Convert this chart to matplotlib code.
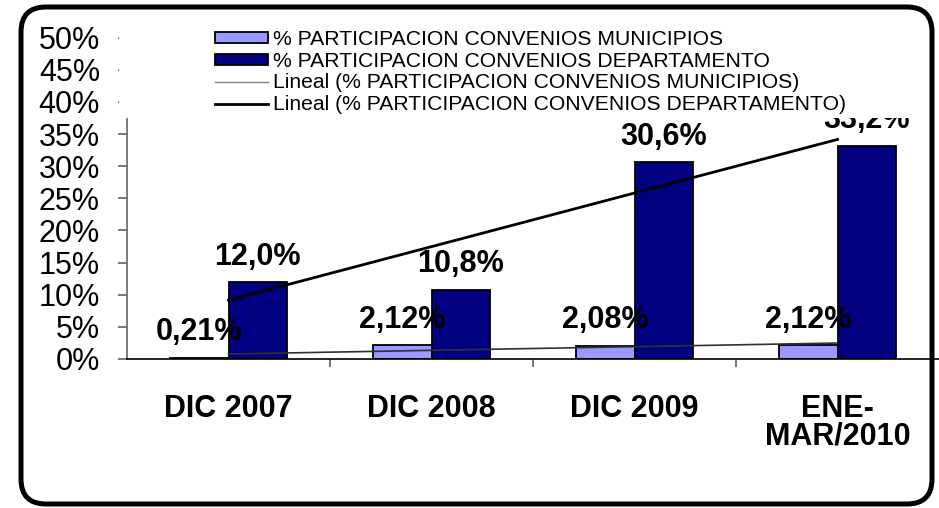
import numpy as np
import matplotlib
matplotlib.use("Agg")
import matplotlib.pyplot as plt
from matplotlib.patches import Rectangle, FancyBboxPatch, Patch
from matplotlib.lines import Line2D
from matplotlib.transforms import IdentityTransform
from matplotlib.ticker import FixedLocator

plt.rcParams['font.family'] = ['Liberation Sans', 'DejaVu Sans']

categories = ["DIC 2007", "DIC 2008", "DIC 2009", "ENE-\nMAR/2010"]
municipios = [0.21, 2.12, 2.08, 2.12]
departamento = [12.0, 10.8, 30.6, 33.2]
labels_mun = ["0,21%", "2,12%", "2,08%", "2,12%"]
labels_dep = ["12,0%", "10,8%", "30,6%", "33,2%"]
yticks = [0, 5, 10, 15, 20, 25, 30, 35, 40, 45, 50]
ytick_labels = ["0%", "5%", "10%", "15%", "20%", "25%", "30%", "35%", "40%", "45%", "50%"]
legend_labels = ["% PARTICIPACION CONVENIOS MUNICIPIOS",
                 "% PARTICIPACION CONVENIOS DEPARTAMENTO",
                 "Lineal (% PARTICIPACION CONVENIOS MUNICIPIOS)",
                 "Lineal (% PARTICIPACION CONVENIOS DEPARTAMENTO)"]

W, H = 939, 508
fig = plt.figure(figsize=(W / 100, H / 100), dpi=100)
ax = fig.add_axes([127 / W, (H - 359) / H, 1 - 127 / W, (359 - 37.6) / H])

x = np.arange(len(categories))
bw = 0.286
c_mun = "#9999FF"
c_dep = "#000080"
ax.bar(x - bw / 2, municipios, bw, color=c_mun, edgecolor="black", linewidth=1.3, zorder=2)
ax.bar(x + bw / 2, departamento, bw, color=c_dep, edgecolor="black", linewidth=1.3, zorder=2)

# linear trendlines
pm = np.polyfit(x, municipios, 1)
pd_ = np.polyfit(x, departamento, 1)
ax.plot(x, np.polyval(pm, x), color="#303030", lw=1.2, zorder=3)
ax.plot(x, np.polyval(pd_, x), color="black", lw=2.0, zorder=3)

for xi, v, s in zip(x, municipios, labels_mun):
    ax.annotate(s, (xi - bw / 2, v), xytext=(0, 12.5), textcoords="offset points",
                ha="center", va="baseline", fontsize=22, fontweight="bold", zorder=4)
for xi, v, s in zip(x, departamento, labels_dep):
    ax.annotate(s, (xi + bw / 2, v), xytext=(0, 12.5), textcoords="offset points",
                ha="center", va="baseline", fontsize=22, fontweight="bold", zorder=4)

ax.set_xlim(-0.5, 3.5)
ax.set_ylim(0, 50)
ax.set_yticks(yticks)
ax.set_yticklabels(ytick_labels, fontsize=22)
ax.tick_params(axis="y", direction="out", length=6.5, width=1.2, color="#606060", pad=13)
ax.set_xticks(x)
ax.set_xticklabels(categories, fontsize=22, fontweight="bold", linespacing=0.92)
ax.tick_params(axis="x", which="major", length=0, pad=25)
ax.xaxis.set_minor_locator(FixedLocator([0.5, 1.5, 2.5]))
ax.tick_params(axis="x", which="minor", direction="out", length=6, width=1.2, color="#606060")

for s in ["top", "right"]:
    ax.spines[s].set_visible(False)
ax.spines["left"].set_color("#707070")
ax.spines["left"].set_linewidth(1.3)
ax.spines["bottom"].set_color("black")
ax.spines["bottom"].set_linewidth(1.2)

# white legend background area
bg = Rectangle((119, H - 118), 800, 105, transform=IdentityTransform(),
               facecolor="white", edgecolor="none", zorder=5, clip_on=False)
ax.add_patch(bg)

handles = [Patch(facecolor=c_mun, edgecolor="black", linewidth=1.3),
           Patch(facecolor=c_dep, edgecolor="black", linewidth=1.3),
           Line2D([], [], color="#808080", lw=1.0),
           Line2D([], [], color="black", lw=2.0)]
leg = ax.legend(handles, legend_labels, loc="upper left",
                bbox_to_anchor=(215 / W, (H - 30) / H), bbox_transform=fig.transFigure,
                frameon=False, fontsize=15.2, borderpad=0, borderaxespad=0,
                handlelength=2.5, handleheight=0.44, handletextpad=0.24,
                labelspacing=0.13)
leg.set_zorder(6)

# rounded outer border
border = FancyBboxPatch((21, H - 504), 911, 497, boxstyle="round,pad=0,rounding_size=25",
                        transform=IdentityTransform(), facecolor="none", edgecolor="black",
                        linewidth=3.6, zorder=10, clip_on=False)
fig.patches.append(border)

fig.savefig("out.png", dpi=100)
